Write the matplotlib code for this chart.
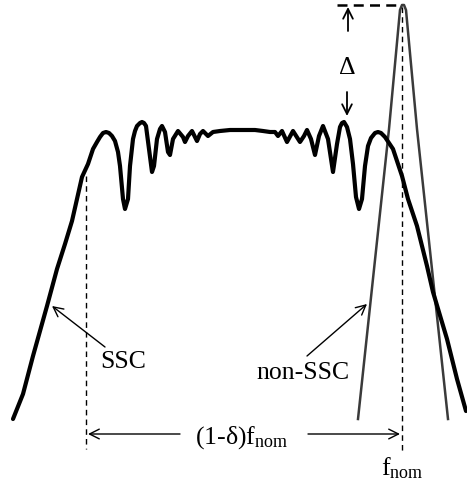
import matplotlib
matplotlib.use("Agg")
import matplotlib.pyplot as plt

# SSC spectrum outline (x right, y down, in pixels)
ssc_x = [13, 23, 33, 47, 57, 65, 72, 82, 88, 93, 97, 100, 103, 106, 109, 112, 115,
         118, 120, 123, 125, 128, 130, 133, 135, 137, 140, 142, 144, 146, 149, 152,
         154, 157, 160, 162, 165, 168, 170, 173, 178, 183, 185, 188, 192, 197, 200,
         203, 208, 213, 220, 230, 255, 263, 270, 275, 278, 282, 287, 293, 300, 304,
         307, 311, 315, 319, 323, 328, 333, 337, 340, 342, 344, 347, 350, 353, 356,
         359, 362, 365, 368, 371, 375, 378, 381, 385, 393, 402, 408, 417, 427, 433,
         447, 457, 466]
ssc_y = [420, 395, 357, 307, 270, 245, 222, 178, 165, 150, 143, 138, 134, 133, 134,
         137, 142, 153, 167, 200, 210, 200, 167, 140, 132, 127, 124, 123, 124, 127,
         150, 173, 167, 140, 130, 127, 133, 153, 156, 140, 132, 138, 143, 137, 132,
         142, 135, 132, 137, 133, 132, 131, 131, 132, 133, 133, 137, 132, 143, 132,
         143, 137, 131, 140, 156, 137, 127, 140, 173, 145, 128, 124, 123, 128, 140,
         165, 198, 210, 200, 167, 147, 139, 134, 133, 134, 138, 150, 177, 200, 227,
         267, 293, 340, 380, 412]

# non-SSC spectrum (narrow peak at f_nom)
nonssc_x = [358, 389, 400, 402, 404, 406, 417, 448]
nonssc_y = [420, 130, 11, 6, 6, 11, 130, 420]

labels = ["SSC", "non-SSC", r"$\Delta$",
          r"$(1\text{-}\delta)\mathrm{f}_{\mathrm{nom}}$", r"$\mathrm{f}_{\mathrm{nom}}$"]

plt.rcParams['font.family'] = ['Liberation Serif', 'DejaVu Serif']
plt.rcParams['mathtext.fontset'] = 'custom'
plt.rcParams['mathtext.rm'] = 'Liberation Serif'
plt.rcParams['mathtext.it'] = 'Liberation Serif'
plt.rcParams['mathtext.bf'] = 'Liberation Serif:bold'

fig = plt.figure(figsize=(4.67, 4.85), dpi=100)
ax = fig.add_axes([0, 0, 1, 1])
ax.set_xlim(0, 467)
ax.set_ylim(485, 0)
ax.axis('off')

ax.plot(nonssc_x, nonssc_y, color='#3a3a3a', lw=1.8, solid_joinstyle='round')
ax.plot(ssc_x, ssc_y, color='black', lw=3.0, solid_joinstyle='round',
        solid_capstyle='round')

# guide lines
ax.plot([86, 86], [177, 450], color='black', lw=1.0, dashes=(4, 3))
ax.plot([402, 402], [8, 452], color='black', lw=1.0, dashes=(4, 3))
ax.plot([337, 402], [6, 6], color='black', lw=1.8, dashes=(4, 2.5))

fs = 18.5
arr = dict(arrowstyle='->,head_length=0.7,head_width=0.35', color='black', lw=1.3,
           shrinkA=0, shrinkB=0)

# Delta
ax.annotate('', xy=(348, 8), xytext=(348, 32), arrowprops=arr)
ax.annotate('', xy=(347, 117), xytext=(347, 93), arrowprops=arr)
ax.text(347, 68, labels[2], fontsize=fs, ha='center', va='center')

# SSC / non-SSC labels
thin = dict(arr, lw=1.0)
ax.annotate('', xy=(52, 307), xytext=(105, 348), arrowprops=thin)
ax.text(123, 362, labels[0], fontsize=fs, ha='center', va='center')
ax.annotate('', xy=(367, 305), xytext=(307, 357), arrowprops=thin)
ax.text(303, 373, labels[1], fontsize=fs, ha='center', va='center')

# (1-delta) f_nom span
ax.annotate('', xy=(88, 435), xytext=(180, 435), arrowprops=thin)
ax.annotate('', xy=(400, 435), xytext=(308, 435), arrowprops=thin)
ax.text(242, 438, labels[3], fontsize=fs, ha='center', va='center')
ax.text(402, 468, labels[4], fontsize=fs, ha='center', va='center')

fig.savefig("out.png", dpi=100)
